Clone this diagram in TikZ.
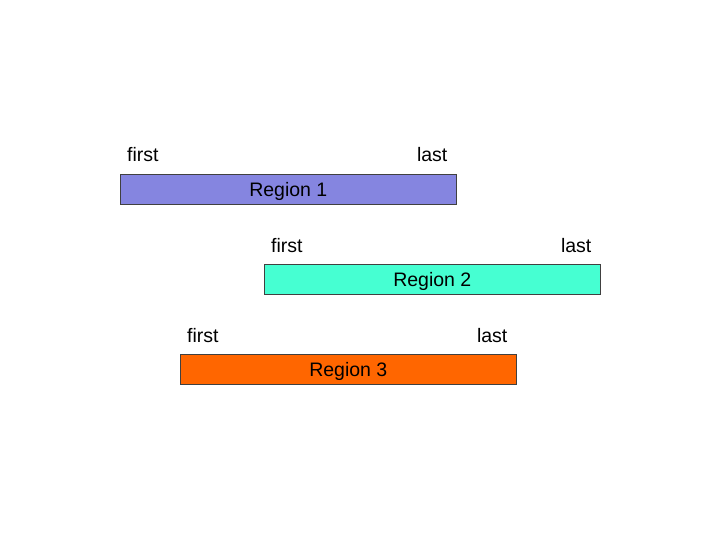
\documentclass[tikz,border=0pt]{standalone}
\usepackage{fontspec}
\setmainfont{Liberation Sans}
\usepackage{tikz}
\usetikzlibrary{positioning, calc}

\definecolor{regionblue}{HTML}{8585E0}
\definecolor{regionaqua}{HTML}{46FFD2}
\definecolor{regionorange}{HTML}{FF6600}

\tikzset{
  regionbar/.style={draw=black!75, line width=0.6pt, minimum width=336pt,
                    minimum height=30pt, inner sep=0pt, text height=14pt, text depth=0pt,
                    font=\fontsize{19.5}{22}\selectfont},
  endlabel/.style={font=\fontsize{19.5}{22}\selectfont, inner sep=0pt}
}

\begin{document}
\begin{tikzpicture}[x=1pt, y=-1pt]
\useasboundingbox (0,0) rectangle (720,540);

% =============== REGIONS ===============
\foreach \i/\x/\y/\col in {1/120/174/regionblue, 2/264/264/regionaqua, 3/180/354/regionorange}{
  \node[regionbar, fill=\col, anchor=north west] (bar\i) at (\x,\y) {Region \i};
  \node[endlabel, anchor=base west] (first\i) at ([xshift=7pt, yshift=12pt]bar\i.north west) {first};
  \node[endlabel, anchor=base east] (last\i) at ([xshift=-9pt, yshift=12pt]bar\i.north east) {last};
}

\end{tikzpicture}
\end{document}
